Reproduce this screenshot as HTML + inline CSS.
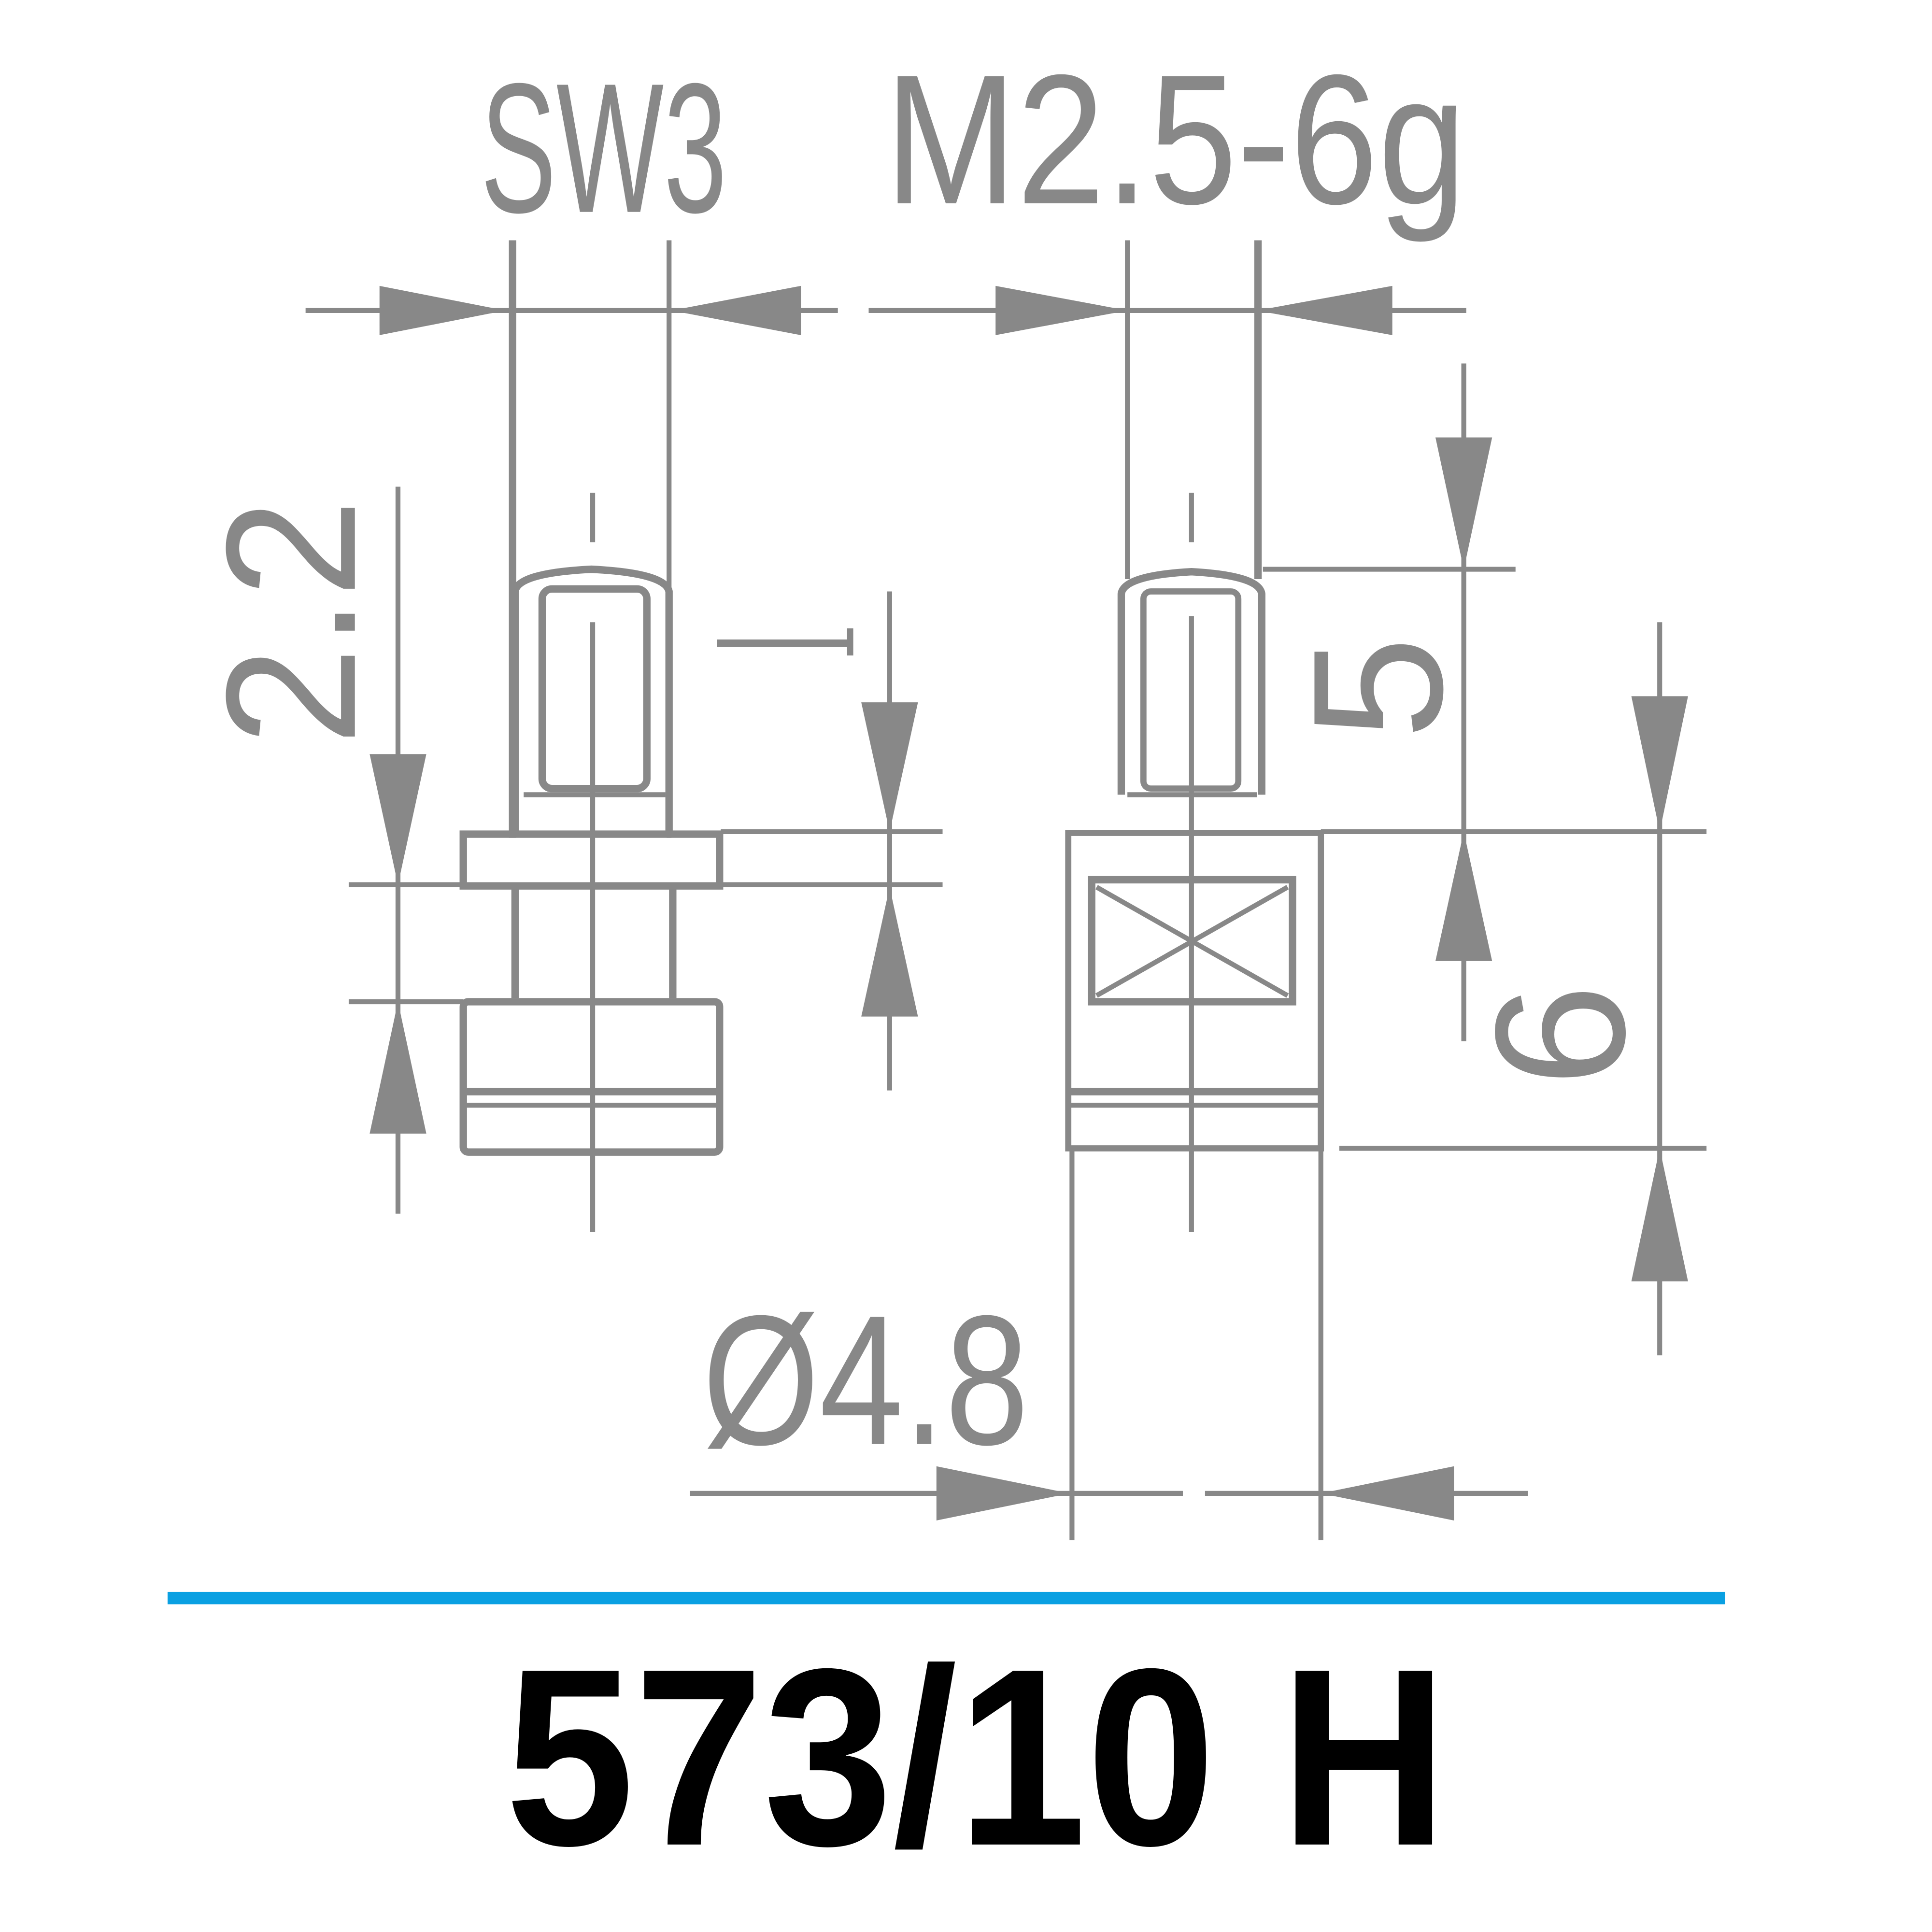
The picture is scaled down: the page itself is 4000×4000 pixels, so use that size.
<!DOCTYPE html>
<html><head><meta charset="utf-8"><style>html,body{margin:0;padding:0;background:#fff}svg{display:block}</style></head>
<body>
<svg width="4000" height="4000" viewBox="0 0 1568 1568" xmlns="http://www.w3.org/2000/svg">
<g stroke="#888" stroke-width="4" fill="none">
<line x1="248" y1="252" x2="680" y2="252"/>
<line x1="416" y1="195" x2="416" y2="680" stroke-width="6"/>
<line x1="543" y1="195" x2="543" y2="680"/>
<line x1="705" y1="252" x2="1190" y2="252"/>
<line x1="915" y1="195" x2="915" y2="470"/>
<line x1="1021" y1="195" x2="1021" y2="470" stroke-width="6"/>
<path d="M418 675 V480 Q420 465 480 462 Q540 465 543 480 V675" stroke-width="6"/>
<rect x="440" y="478" width="85" height="162" rx="8" stroke-width="6"/>
<line x1="425" y1="645" x2="540" y2="645"/>
<line x1="481" y1="400" x2="481" y2="440"/>
<line x1="481" y1="505" x2="481" y2="1000"/>
<rect x="376" y="677" width="208" height="42" stroke-width="6"/>
<line x1="418" y1="720" x2="418" y2="810" stroke-width="6"/>
<line x1="546" y1="720" x2="546" y2="810" stroke-width="6"/>
<rect x="376" y="813" width="208" height="122" rx="4" stroke-width="6"/>
<line x1="376" y1="886" x2="584" y2="886" stroke-width="6"/>
<line x1="376" y1="897" x2="584" y2="897"/>
<line x1="283" y1="718" x2="765" y2="718"/>
<line x1="585" y1="675" x2="765" y2="675"/>
<line x1="283" y1="813" x2="376" y2="813"/>
<line x1="323" y1="395" x2="323" y2="985"/>
<line x1="722" y1="480" x2="722" y2="885"/>
<line x1="582" y1="522" x2="692" y2="522" stroke-width="6"/>
<line x1="690" y1="510" x2="690" y2="532" stroke-width="5"/>
<path d="M910 645 V482 Q912 467 967 464 Q1022 467 1024 482 V645" stroke-width="6"/>
<rect x="928" y="480" width="77" height="160" rx="6" stroke-width="5"/>
<line x1="967" y1="400" x2="967" y2="440"/>
<line x1="967" y1="500" x2="967" y2="1000"/>
<line x1="915" y1="645" x2="1020" y2="645"/>
<rect x="867" y="676" width="205" height="256" stroke-width="5"/>
<line x1="867" y1="886" x2="1072" y2="886" stroke-width="6"/>
<line x1="867" y1="897" x2="1072" y2="897"/>
<rect x="886" y="714" width="163" height="99" stroke-width="6"/>
<line x1="890" y1="720" x2="1045" y2="808"/>
<line x1="890" y1="808" x2="1045" y2="720"/>
<line x1="870" y1="932" x2="870" y2="1250"/>
<line x1="1072" y1="676" x2="1072" y2="1250"/>
<line x1="1025" y1="462" x2="1230" y2="462"/>
<line x1="1072" y1="675" x2="1385" y2="675"/>
<line x1="1087" y1="932" x2="1385" y2="932"/>
<line x1="1188" y1="295" x2="1188" y2="845"/>
<line x1="1347" y1="505" x2="1347" y2="1100"/>
<line x1="560" y1="1212" x2="960" y2="1212"/>
<line x1="978" y1="1212" x2="1240" y2="1212"/>
</g>
<g fill="#888">
<polygon points="410,252 308,232 308,272"/>
<polygon points="545,252 650,232 650,272"/>
<polygon points="915,252 808,232 808,272"/>
<polygon points="1020,252 1130,232 1130,272"/>
<polygon points="323,718 300,612 346,612"/>
<polygon points="323,813 300,920 346,920"/>
<polygon points="722,675 699,570 745,570"/>
<polygon points="722,720 699,825 745,825"/>
<polygon points="1188,462 1165,355 1211,355"/>
<polygon points="1188,675 1165,780 1211,780"/>
<polygon points="1347,675 1324,565 1370,565"/>
<polygon points="1347,932 1324,1040 1370,1040"/>
<polygon points="868,1212 760,1190 760,1234"/>
<polygon points="1072,1212 1180,1190 1180,1234"/>
</g>
<g fill="#888" font-family="Liberation Sans, sans-serif">
<text x="390" y="172" font-size="150" textLength="200" lengthAdjust="spacingAndGlyphs">SW3</text>
<text x="718" y="165" font-size="150" textLength="472" lengthAdjust="spacingAndGlyphs">M2.5-6g</text>
<text x="570" y="1172" font-size="150" textLength="265" lengthAdjust="spacingAndGlyphs">Ø4.8</text>
<text transform="translate(288,605) rotate(-90)" font-size="150" textLength="200" lengthAdjust="spacingAndGlyphs">2.2</text>
<text transform="translate(1170,600) rotate(-90)" font-size="150">5</text>
<text transform="translate(1318,882) rotate(-90)" font-size="150">6</text>
</g>
<rect x="136" y="1292" width="1264" height="10" fill="#0aa0e2"/>
<text x="410" y="1497" font-family="Liberation Sans, sans-serif" font-weight="bold" font-size="205" fill="#000" textLength="765" lengthAdjust="spacingAndGlyphs">573/10 H</text>
</svg>
</body></html>
